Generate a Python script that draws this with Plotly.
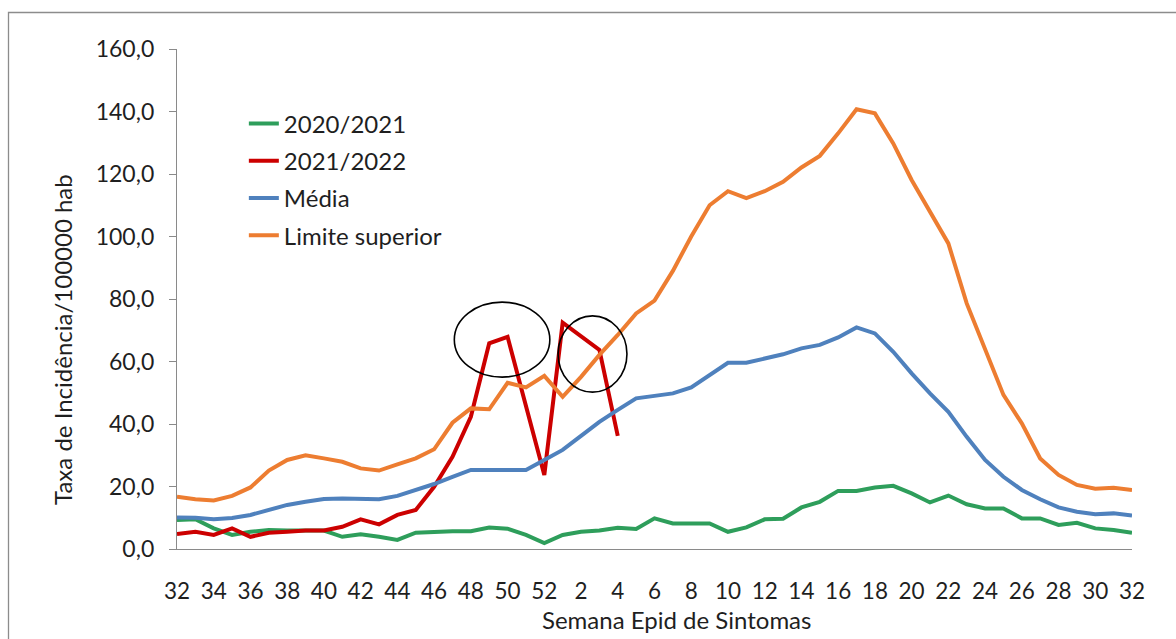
import plotly.graph_objects as go

# Epidemiological weeks (season 32 -> 52, then 1 -> 32)
weeks = list(range(32, 53)) + list(range(1, 33))

serie_2020_2021 = [9.3, 9.5, 6.6, 4.5, 5.5, 6.1, 5.9, 5.9, 5.9, 3.9, 4.7, 3.9, 2.9, 5.2, 5.5,
                   5.7, 5.7, 6.9, 6.5, 4.5, 1.9, 4.5, 5.5, 5.9, 6.8, 6.4, 9.8, 8.2, 8.2, 8.2,
                   5.5, 6.9, 9.5, 9.7, 13.3, 15.1, 18.6, 18.6, 19.7, 20.2, 17.8, 14.9, 17.1,
                   14.3, 13.0, 13.0, 9.8, 9.8, 7.7, 8.4, 6.6, 6.1, 5.2]

serie_2021_2022 = [4.8, 5.5, 4.5, 6.6, 3.9, 5.2, 5.5, 5.9, 5.9, 7.1, 9.5, 7.9, 10.9, 12.5, 19.9,
                   29.5, 42.3, 65.8, 67.9, 46.0, 23.7, 72.4, 67.9, 63.7, 36.2]

media = [10.1, 10.0, 9.5, 9.9, 10.9, 12.5, 14.1, 15.1, 16.0, 16.2, 15.9, 15.9, 17.0, 18.9, 20.8,
         23.1, 25.3, 25.3, 25.3, 25.3, 28.5, 31.7, 36.2, 40.7, 44.5, 48.2, 49.0, 49.8, 51.7,
         55.7, 59.6, 59.6, 61.0, 62.3, 64.2, 65.3, 67.7, 70.9, 69.0, 63.1, 56.2, 49.8, 43.9,
         35.9, 28.5, 23.1, 18.9, 15.9, 13.3, 11.9, 11.1, 11.4, 10.7]

limite_superior = [16.7, 15.9, 15.5, 17.0, 19.7, 25.1, 28.5, 30.0, 29.0, 27.9, 25.8, 25.1, 27.1,
                   29.0, 31.9, 40.4, 45.0, 44.7, 53.2, 51.7, 55.4, 48.7, 55.1, 62.1, 68.5, 75.4,
                   79.5, 89.0, 100.0, 110.0, 114.5, 112.3, 114.5, 117.5, 122.1, 125.8, 133.0,
                   140.7, 139.4, 129.8, 118.1, 107.9, 97.8, 78.6, 63.7, 49.3, 40.2, 29.0, 23.7,
                   20.5, 19.3, 19.6, 18.9]

y_ticks = [0, 20, 40, 60, 80, 100, 120, 140, 160]

# highlighted regions (circles drawn on the chart), in data coordinates
circle_1 = dict(x0=15.1, x1=20.3, y0=55.0, y1=79.0)
circle_2 = dict(x0=20.75, x1=24.5, y0=50.2, y1=74.6)

FONT = "Lato"
TXT = "#1f1f1f"
AXIS = "#8a8a8a"

x_idx = list(range(len(weeks)))

series = [
    ("2020/2021", serie_2020_2021, "#2E9E5B"),
    ("2021/2022", serie_2021_2022, "#CC0000"),
    ("Média", media, "#4F81BD"),
    ("Limite superior", limite_superior, "#ED7D31"),
]

fig = go.Figure()
for name, vals, color in series:
    fig.add_trace(go.Scatter(
        x=x_idx[:len(vals)], y=vals, mode="lines", name=name, legendgroup=name,
        line=dict(color=color, width=4),
    ))

fig.update_layout(
    width=1176, height=639,
    margin=dict(l=177, r=44, t=49, b=90),
    paper_bgcolor="white", plot_bgcolor="white",
    separators=", ",
    font=dict(family=FONT, size=22, color=TXT),
    showlegend=True,
    legend=dict(
        x=0.070, y=0.895, xanchor="left", yanchor="top",
        bgcolor="rgba(0,0,0,0)", font=dict(size=24, family=FONT, color=TXT),
        tracegroupgap=3,
    ),
    xaxis=dict(
        range=[0, len(weeks) - 1], tickmode="array",
        tickvals=x_idx[::2], ticktext=[str(w) for w in weeks[::2]],
        showline=True, linecolor=AXIS, linewidth=1.3, ticks="",
        showgrid=False, zeroline=False, ticklabelstandoff=22,
        tickfont=dict(size=22.5, family=FONT, color=TXT),
    ),
    yaxis=dict(
        range=[0, 160], tickmode="array", tickvals=y_ticks, tickformat=".1f",
        showline=True, linecolor=AXIS, linewidth=1.3, ticks="outside",
        ticklen=7, tickcolor=AXIS, tickwidth=1.3,
        showgrid=False, zeroline=False, ticklabelstandoff=10,
        tickfont=dict(size=23, family=FONT, color=TXT),
    ),
    annotations=[
        dict(text="Taxa de Incidência/100000 hab", textangle=-90,
             xref="paper", yref="paper", x=(62 - 177) / 955, y=(549 - 340) / 500,
             xanchor="center", yanchor="middle", showarrow=False,
             font=dict(size=24, family=FONT, color=TXT)),
        dict(text="Semana Epid de Sintomas",
             xref="paper", yref="paper", x=(676 - 177) / 955, y=(549 - 619) / 500,
             xanchor="center", yanchor="middle", showarrow=False,
             font=dict(size=24, family=FONT, color=TXT)),
    ],
    shapes=[
        dict(type="rect", xref="paper", yref="paper",
             x0=(8.5 - 177) / 955, x1=(1190 - 177) / 955,
             y0=(549 - 660) / 500, y1=(549 - 12.5) / 500,
             line=dict(color="#8c8c8c", width=1.3), fillcolor="rgba(0,0,0,0)", layer="below"),
        dict(type="circle", xref="x", yref="y", **circle_1,
             line=dict(color="black", width=1.6)),
        dict(type="circle", xref="x", yref="y", **circle_2,
             line=dict(color="black", width=1.6)),
    ],
)

fig.write_html("out.html")
